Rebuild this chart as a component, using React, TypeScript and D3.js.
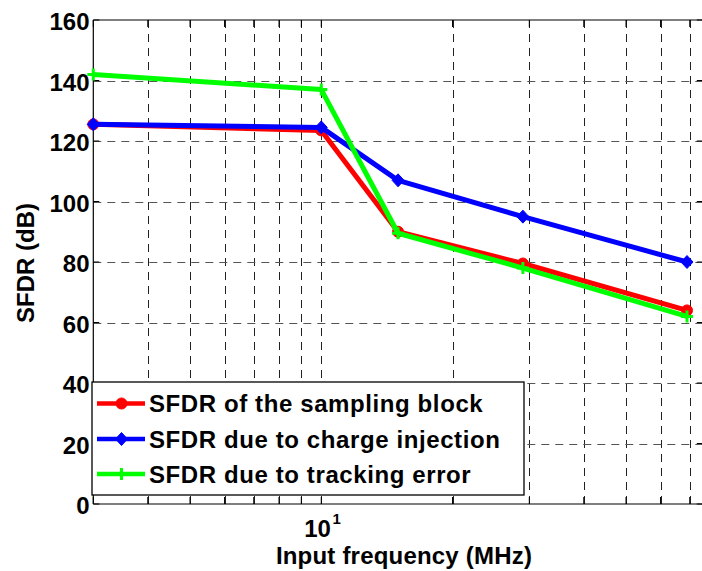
import React from "react";
import * as d3 from "d3";

const freqs = [3, 10, 15, 29, 69];
const samplingBlock = [125.5, 123.5, 90, 79.5, 64];
const chargeInjection = [125.5, 124.5, 107, 95, 80];
const trackingError = [142, 137, 89.5, 78, 62];
const seriesNames = [
  "SFDR of the sampling block",
  "SFDR due to charge injection",
  "SFDR due to tracking error",
];
const seriesColors = ["#ff0000", "#0000ff", "#00ff00"];
const seriesMarkers = ["circle", "diamond", "plus"];
const yTicks = [0, 20, 40, 60, 80, 100, 120, 140, 160];
const xMajorTicks = [10];
const xMinorTicks = [3, 4, 5, 6, 7, 8, 9, 20, 30, 40, 50, 60, 70];
const xLabel = "Input frequency (MHz)";
const yLabel = "SFDR (dB)";

const W = 702;
const H = 571;
const left = 93.3;
const top = 20;
const bottom = 504;
const decade = 436;

const x = d3
  .scaleLog()
  .domain([3, 75])
  .range([left, left + decade * Math.log10(75 / 3)]);
const y = d3.scaleLinear().domain([0, 160]).range([bottom, top]);
const right = x.range()[1];

const FONT = "'Liberation Sans', Arial, Helvetica, sans-serif";

function Marker({ kind, cx, cy, color }: { kind: string; cx: number; cy: number; color: string }) {
  if (kind === "circle") return <circle cx={cx} cy={cy} r={5.5} fill={color} stroke={color} strokeWidth={1} />;
  if (kind === "diamond")
    return (
      <path
        d={`M${cx},${cy - 6.5}L${cx + 6},${cy}L${cx},${cy + 6.5}L${cx - 6},${cy}Z`}
        fill={color}
        stroke={color}
        strokeWidth={1}
      />
    );
  return (
    <path
      d={`M${cx - 6},${cy}H${cx + 6}M${cx},${cy - 6}V${cy + 6}`}
      stroke={color}
      strokeWidth={3}
      fill="none"
    />
  );
}

export default function App() {
  const series = [samplingBlock, chargeInjection, trackingError];
  const line = d3
    .line<number>()
    .x((_, i) => x(freqs[i]))
    .y((d) => y(d));
  const allX = [...xMinorTicks, ...xMajorTicks];

  const legX = 92;
  const legY = 382;
  const legW = 432;
  const legH = 113;
  const rowY = [403.5, 439, 474];

  return (
    <svg
      width={W}
      height={H}
      style={{ position: "absolute", left: 0, top: 0, background: "#fff" }}
      fontFamily={FONT}
      fontWeight="bold"
    >
      <rect x={0} y={0} width={W} height={H} fill="#fff" />
      {/* grid */}
      <g stroke="#222" strokeWidth={1} strokeDasharray="8,6">
        {allX
          .filter((v) => v > 3)
          .map((v) => (
            <line key={"gx" + v} x1={Math.round(x(v)) + 0.5} x2={Math.round(x(v)) + 0.5} y1={top} y2={bottom} />
          ))}
        {yTicks
          .filter((v) => v > 0 && v < 160)
          .map((v) => (
            <line key={"gy" + v} x1={left} x2={right} y1={Math.round(y(v)) + 0.5} y2={Math.round(y(v)) + 0.5} stroke="#555" />
          ))}
      </g>
      {/* axes box */}
      <g stroke="#000" strokeWidth={1.2} fill="none">
        <line x1={left} x2={right} y1={top} y2={top} />
        <line x1={left} x2={right} y1={bottom} y2={bottom} />
        <line x1={left} x2={left} y1={top} y2={bottom} />
        <line x1={right} x2={right} y1={top} y2={bottom} />
      </g>
      {/* ticks */}
      <g stroke="#000" strokeWidth={1}>
        {allX.map((v) => (
          <g key={"tx" + v}>
            <line x1={x(v)} x2={x(v)} y1={bottom} y2={bottom - 7} />
            <line x1={x(v)} x2={x(v)} y1={top} y2={top + 7} />
          </g>
        ))}
        {yTicks.map((v) => (
          <g key={"ty" + v}>
            <line x1={left} x2={left + 6} y1={y(v)} y2={y(v)} />
            <line x1={right} x2={right - 6} y1={y(v)} y2={y(v)} />
          </g>
        ))}
      </g>
      {/* y tick labels */}
      <g fontSize={24} textAnchor="end" fill="#000">
        {yTicks.map((v) => (
          <text key={"yl" + v} x={89.5} y={y(v) + 10}>
            {v}
          </text>
        ))}
      </g>
      {/* x tick labels */}
      {xMajorTicks.map((v) => (
        <text key={"xl" + v} x={x(v) - 17} y={536.5} fontSize={24} fill="#000">
          <tspan>10</tspan>
          <tspan dx={1.5} dy={-12.5} fontSize={15}>
            {Math.round(Math.log10(v))}
          </tspan>
        </text>
      ))}
      {/* axis labels */}
      <text x={404} y={564} fontSize={24} textAnchor="middle" fill="#000" letterSpacing={0.2}>
        {xLabel}
      </text>
      <text
        transform={`translate(33.5,263) rotate(-90)`}
        fontSize={24}
        textAnchor="middle"
        fill="#000"
      >
        {yLabel}
      </text>
      {/* series */}
      {series.map((s, si) => (
        <g key={"s" + si}>
          <path d={line(s) || ""} fill="none" stroke={seriesColors[si]} strokeWidth={5} strokeLinejoin="round" />
          {s.map((v, i) => (
            <Marker key={i} kind={seriesMarkers[si]} cx={x(freqs[i])} cy={y(v)} color={seriesColors[si]} />
          ))}
        </g>
      ))}
      {/* legend */}
      <rect x={legX} y={legY} width={legW} height={legH} fill="#fff" stroke="#000" strokeWidth={1.3} />
      {seriesNames.map((n, i) => (
        <g key={"lg" + i}>
          <line x1={97} x2={145} y1={rowY[i]} y2={rowY[i]} stroke={seriesColors[i]} strokeWidth={4.5} />
          <Marker kind={seriesMarkers[i]} cx={121.5} cy={rowY[i]} color={seriesColors[i]} />
          <text x={149} y={rowY[i] + 8.6} fontSize={24} fill="#000" letterSpacing={0.6}>
            {n}
          </text>
        </g>
      ))}
    </svg>
  );
}
